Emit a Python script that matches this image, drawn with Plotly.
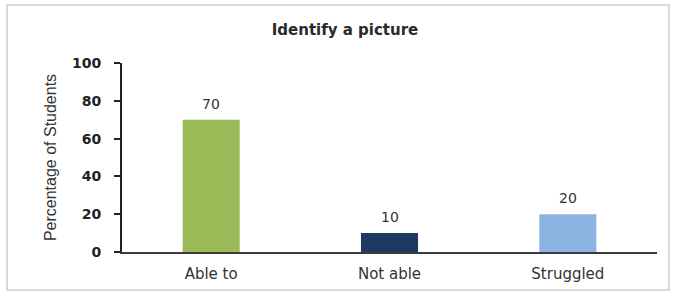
import plotly.graph_objects as go

categories = ["Able to", "Not able", "Struggled"]
values = [70, 10, 20]
bar_colors = ["#9BBB59", "#1F3864", "#8DB3E2"]
y_ticks = [0, 20, 40, 60, 80, 100]

W, H = 676, 294
L, R, T, B = 122, 19, 63, 42
pw, ph = W - L - R, H - T - B

def px_x(p):
    return (p - L) / pw

def px_y(p):
    return (H - B - p) / ph

fig = go.Figure(go.Bar(
    x=categories, y=values,
    marker=dict(color=bar_colors, line=dict(width=0)),
    width=0.32,
    hoverinfo="x+y",
))

for c, v in zip(categories, values):
    fig.add_annotation(x=c, y=v, text=str(v), showarrow=False,
                       yanchor="bottom", yshift=6,
                       font=dict(family="DejaVu Sans", size=14, color="#333333"))

fig.update_layout(
    width=W, height=H,
    margin=dict(l=L, r=R, t=T, b=B),
    paper_bgcolor="white", plot_bgcolor="white",
    showlegend=False,
    title=dict(text="Identify a picture", xref="container", x=345 / W, xanchor="center",
               yref="container", y=1 - 30 / H, yanchor="middle",
               font=dict(family="DejaVu Sans", size=15, color="#2a2a2a", weight="bold")),
    xaxis=dict(showline=True, linecolor="#3a3a3a", linewidth=2, ticks="",
               showgrid=False, ticklabelstandoff=7,
               tickfont=dict(family="DejaVu Sans", size=15, color="#333333")),
    yaxis=dict(range=[0, 100], tickvals=y_ticks, showline=True, linecolor="#222222",
               linewidth=2, ticks="outside", ticklen=6, tickcolor="#222222", tickwidth=1.5,
               showgrid=False, zeroline=False, ticklabelstandoff=10,
               tickfont=dict(family="DejaVu Sans", size=14, color="#222222", weight="bold"),
               title=dict(text="Percentage of Students",
                          font=dict(family="Liberation Sans Narrow, Liberation Sans", size=16, color="#333333"),
                          standoff=11)),
    shapes=[dict(type="rect", xref="paper", yref="paper",
                 x0=px_x(7), x1=px_x(669), y0=px_y(290), y1=px_y(5),
                 line=dict(color="#D9D9D9", width=2), fillcolor="rgba(0,0,0,0)", layer="below")],
)

fig.write_html("out.html", config={"displayModeBar": False},
               post_script="document.body.style.margin='0';")
